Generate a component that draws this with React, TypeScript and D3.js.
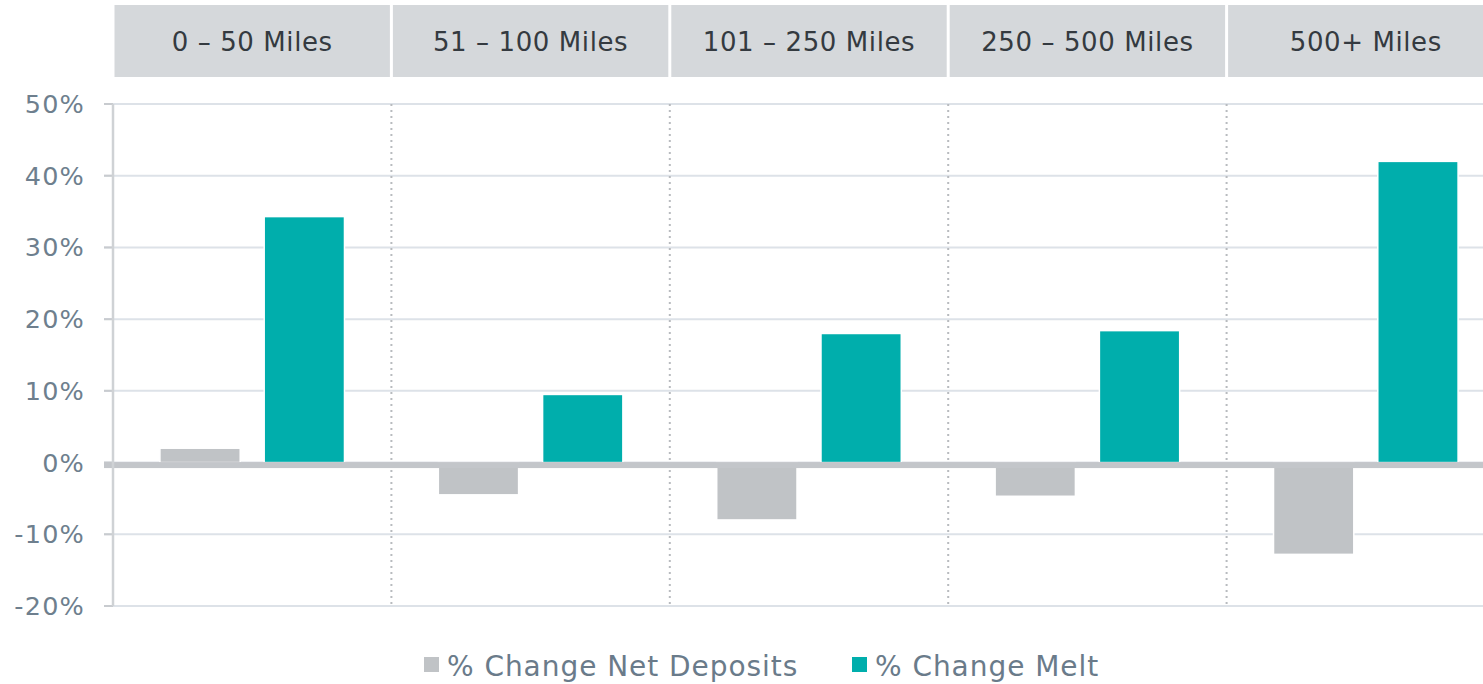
import React from 'react';
import * as d3 from 'd3';

const categories = ['0 – 50 Miles', '51 – 100 Miles', '101 – 250 Miles', '250 – 500 Miles', '500+ Miles'];
const seriesNames = ['% Change Net Deposits', '% Change Melt'];
const netDeposits = [2, -4.5, -8, -4.7, -12.8];
const melt = [34.3, 9.5, 18, 18.4, 42];
const yTicks = [-20, -10, 0, 10, 20, 30, 40, 50];

const colors = ['#c0c3c6', '#00aeac'];
const font = 'Verdana, "DejaVu Sans", sans-serif';

const App = () => {
  const width = 1483;
  const height = 684;
  const left = 113;
  const panelW = 278.4;

  const x = d3.scaleBand().domain(categories).range([left, left + panelW * categories.length]);
  const xInner = d3.scaleBand().domain(seriesNames).range([0, panelW]).paddingInner(0.23).paddingOuter(0.45);
  const y = d3.scaleLinear().domain([-20, 50]).range([606, 104]);

  const series = [netDeposits, melt];

  return (
    <svg width={width} height={height} style={{ position: 'absolute', left: 0, top: 0, background: '#fff' }}>
      {/* header strips */}
      {categories.map((c) => (
        <g key={c}>
          <rect x={x(c)! + 1.5} y={5} width={panelW - 3} height={72} fill="#d5d8db" />
          <text x={x(c)! + panelW / 2} y={51} textAnchor="middle" fontFamily={font} fontSize={26} letterSpacing={0.6} fill="#343a40">{c}</text>
        </g>
      ))}

      {/* grid */}
      {yTicks.map((t) => (
        <g key={t}>
          <line x1={104} x2={width} y1={y(t)} y2={y(t)} stroke="#dde2e8" strokeWidth={2} />
          <line x1={104} x2={113} y1={y(t)} y2={y(t)} stroke="#c8cbcf" strokeWidth={2} />
          <text x={85} y={y(t) + 9} textAnchor="end" fontFamily={font} fontSize={25.5} letterSpacing={1.2} fill="#6e7f8e">{t}%</text>
        </g>
      ))}

      {/* dotted panel separators */}
      {categories.slice(1).map((c) => (
        <line key={c} x1={x(c)} x2={x(c)} y1={104} y2={606} stroke="#b8bbbf" strokeWidth={2} strokeDasharray="2,4" />
      ))}

      {/* bars */}
      {categories.map((c, i) =>
        series.map((s, j) => {
          const v = s[i];
          const bx = x(c)! + xInner(seriesNames[j])!;
          const y0 = v >= 0 ? y(v) : y(0);
          const h = Math.abs(y(v) - y(0));
          return (
            <rect key={c + j} x={bx} y={y0} width={xInner.bandwidth()} height={h} fill={colors[j]} stroke="#fff" strokeWidth={1.5} />
          );
        })
      )}

      {/* zero line */}
      <rect x={104} y={y(0) - 0.5} width={width - 104} height={6} fill="#c3c6ca" />

      {/* y axis */}
      <line x1={113} x2={113} y1={104} y2={606} stroke="#cfd2d5" strokeWidth={2.5} />

      {/* legend */}
      <g fontFamily={font} fontSize={28} letterSpacing={0.95} fill="#6a7b8a">
        <rect x={424} y={657} width={15} height={15} fill={colors[0]} />
        <text x={447} y={676}>{seriesNames[0]}</text>
        <rect x={852} y={657} width={15} height={15} fill={colors[1]} />
        <text x={875} y={676}>{seriesNames[1]}</text>
      </g>
    </svg>
  );
};

export default App;
